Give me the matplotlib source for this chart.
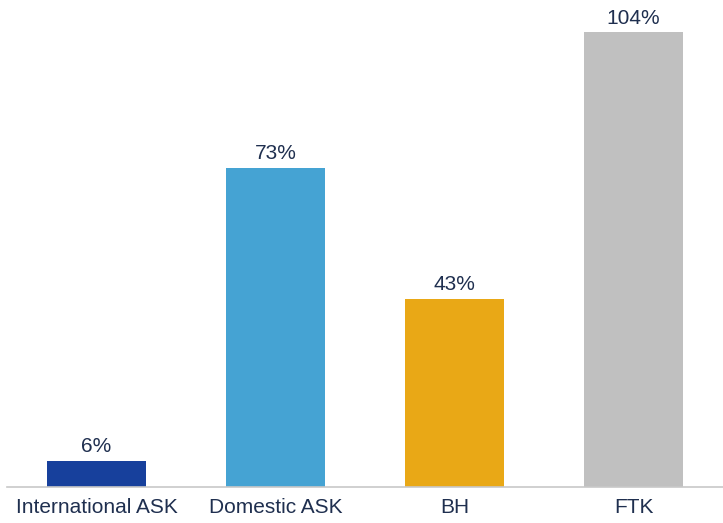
#!/usr/bin/env python3
"""growth_bars.py"""

import matplotlib.pyplot as plt
import numpy as np

categories = ["International ASK", "Domestic ASK", "BH", "FTK"]
values = [6, 73, 43, 104]
colors = ["#17409c", "#45a3d3", "#e9a816", "#c0c0c0"]

TEXT = "#1f2f4f"


def plot(ax):
    x = np.arange(len(categories))
    bars = ax.bar(x, values, width=0.555, color=colors)
    for b, v in zip(bars, values):
        ax.text(b.get_x() + b.get_width() / 2, v + 1.0, f"{v}%",
                ha="center", va="bottom", fontsize=15, color=TEXT)

    ax.set_xlim(-0.5, 3.5)
    ax.set_ylim(0, 111.3)
    ax.set_xticks(x)
    ax.set_xticklabels(categories, fontsize=15, color=TEXT)
    ax.tick_params(axis="x", length=0, pad=8)
    ax.set_yticks([])
    for s in ["top", "right", "left"]:
        ax.spines[s].set_visible(False)
    ax.spines["bottom"].set_color("#c8c8c8")
    ax.spines["bottom"].set_linewidth(1.2)


def main():
    plt.rcParams["font.family"] = ["Liberation Sans", "DejaVu Sans"]
    fig = plt.figure(figsize=(7.23, 5.23), dpi=100)
    ax = fig.add_axes([7 / 723, 36 / 523, 716 / 723, 487 / 523])
    plot(ax)
    fig.savefig("out.png", dpi=100)


if __name__ == "__main__":
    main()
